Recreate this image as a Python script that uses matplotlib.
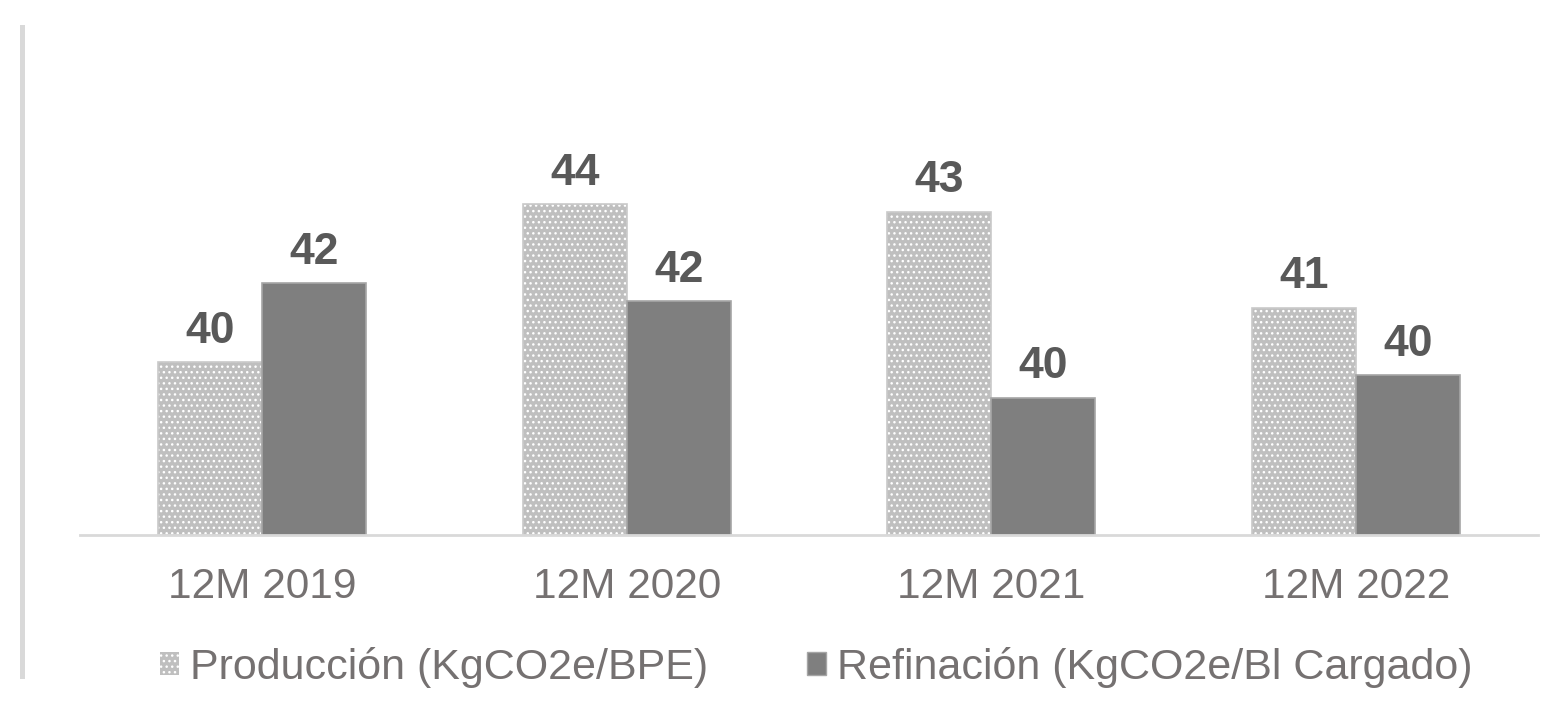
# emisiones por unidad - produccion vs refinacion

import numpy as np
import matplotlib.pyplot as plt
from matplotlib.patches import Patch
from matplotlib.lines import Line2D

plt.rcParams['font.family'] = ['Liberation Sans', 'DejaVu Sans']
plt.rcParams['hatch.linewidth'] = 1.0

categorias = ['12M 2019', '12M 2020', '12M 2021', '12M 2022']
produccion = [39.98, 43.98, 43.78, 41.35]   # KgCO2e/BPE
refinacion = [41.98, 41.52, 39.07, 39.65]   # KgCO2e/Bl cargado
etiq_prod = ['40', '44', '43', '41']
etiq_ref = ['42', '42', '40', '40']

gris_claro = '#bfbfbf'
gris_oscuro = '#7f7f7f'
texto = '#757171'

fig = plt.figure(figsize=(15.47, 7.01), dpi=100)
ax = fig.add_axes([80/1547, 166/701, 1458/1547, 435/701])

x = np.arange(len(categorias))
w = 0.286
ax.bar(x - w/2, produccion, w, color=gris_claro, edgecolor='white', hatch='...', linewidth=0)
ax.bar(x - w/2, produccion, w, fill=False, edgecolor='#c9c9c9', linewidth=1.2)
ax.bar(x + w/2, refinacion, w, color=gris_oscuro, edgecolor='#a6a6a6', linewidth=1.2)

for i in range(len(x)):
    ax.annotate(etiq_prod[i], (x[i] - w/2, produccion[i]), xytext=(0, 14), textcoords='offset points',
                ha='center', va='baseline', fontsize=32, fontweight='bold', color='#595959')
    ax.annotate(etiq_ref[i], (x[i] + w/2, refinacion[i]), xytext=(0, 14), textcoords='offset points',
                ha='center', va='baseline', fontsize=32, fontweight='bold', color='#595959')

ax.set_xlim(-0.5, 3.5)
ax.set_ylim(35.6, 35.6 + 435/39.5)
ax.set_xticks(x)
ax.set_xticklabels(categorias, fontsize=30.5, color=texto)
ax.tick_params(axis='x', length=0, pad=23)
ax.set_yticks([])
for s in ['top', 'right', 'left']:
    ax.spines[s].set_visible(False)
ax.spines['bottom'].set_color('#d9d9d9')
ax.spines['bottom'].set_linewidth(2)

# linea vertical a la izquierda
fig.add_artist(Line2D([21.5/1547, 21.5/1547], [(701-27)/701, (701-676)/701],
                      color='#d9d9d9', linewidth=3.6))

handles = [Patch(facecolor=gris_claro, edgecolor='white', hatch='...', linewidth=0),
           Patch(facecolor=gris_oscuro, edgecolor='#a6a6a6', linewidth=1)]
fig.legend(handles, ['Producción (KgCO2e/BPE)', 'Refinación (KgCO2e/Bl Cargado)'],
           loc='center', bbox_to_anchor=(816/1547, 34/701), ncol=2, frameon=False,
           fontsize=31, labelcolor=texto, handlelength=0.45, handleheight=0.45,
           handletextpad=0.25, columnspacing=2.3)

plt.savefig('out.png', dpi=100)
